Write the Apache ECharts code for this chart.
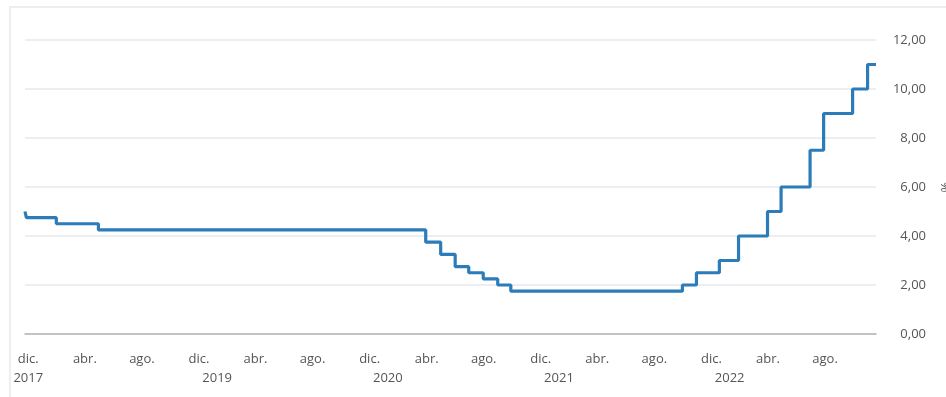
<!DOCTYPE html>
<html>
<head>
<meta charset="utf-8">
<script src="https://cdn.jsdelivr.net/npm/echarts@6/dist/echarts.min.js"></script>
<style>
  html, body { margin: 0; padding: 0; background: #ffffff; }
  #chart { width: 946px; height: 397px; }
</style>
</head>
<body>
<div id="chart"></div>
<script>
// Policy rate (%): each value holds from its date until the next change
const changeDates = [
  '2017-11-24', '2017-11-27', '2018-01-30', '2018-04-30',
  '2020-03-30', '2020-05-01', '2020-06-01', '2020-06-30', '2020-07-31',
  '2020-08-31', '2020-09-28',
  '2021-09-30', '2021-10-30', '2021-12-18', '2022-01-28', '2022-03-31',
  '2022-04-29', '2022-06-30', '2022-07-29', '2022-09-29', '2022-10-31',
  '2022-11-18'
];
const rateValues = [
  5.00, 4.75, 4.50, 4.25,
  3.75, 3.25, 2.75, 2.50, 2.25,
  2.00, 1.75,
  2.00, 2.50, 3.00, 4.00, 5.00,
  6.00, 7.50, 9.00, 10.00, 11.00,
  11.00
];

// Axis labels
const monthNames = ['ene.', 'feb.', 'mar.', 'abr.', 'may.', 'jun.',
                    'jul.', 'ago.', 'sep.', 'oct.', 'nov.', 'dic.'];
const monthTickDates = [
  '2017-12-01', '2018-04-01', '2018-08-01', '2018-12-01', '2019-04-01',
  '2019-08-01', '2019-12-01', '2020-04-01', '2020-08-01', '2020-12-01',
  '2021-04-01', '2021-08-01', '2021-12-01', '2022-04-01', '2022-08-01'
];
const yearTickDates = ['2017-12-01', '2019-01-09', '2020-01-09', '2021-01-09', '2022-01-09'];
const yearLabels = ['2017', '2019', '2020', '2021', '2022'];

const ts = d => new Date(d + 'T00:00:00Z').getTime();
const xMin = ts('2017-11-24');
const xMax = ts('2022-11-18');

const seriesData = changeDates.map((d, i) => [ts(d), rateValues[i]]);
const yearTs = yearTickDates.map(ts);

const labelFont = { fontFamily: 'Open Sans', fontSize: 13, color: '#555' };

const chart = echarts.init(document.getElementById('chart'), null, { renderer: 'canvas' });
chart.setOption({
  animation: false,
  backgroundColor: '#ffffff',
  graphic: [{
    type: 'rect',
    shape: { x: 10, y: 7, width: 980, height: 440 },
    style: { fill: 'none', stroke: '#eeeeee', lineWidth: 2 },
    silent: true,
    z: -10
  }],
  grid: { left: 25, right: 70, top: 40, bottom: 63, outerBoundsMode: 'none', containLabel: false },
  xAxis: [{
    type: 'value',
    min: xMin,
    max: xMax,
    scale: true,
    axisLine: { show: true, onZero: false, lineStyle: { color: '#b4b4b4', width: 1.5 } },
    axisTick: { show: false },
    splitLine: { show: false },
    axisLabel: Object.assign({
      customValues: monthTickDates.map(ts),
      margin: 19,
      hideOverlap: false,
      formatter: v => monthNames[new Date(v).getUTCMonth()]
    }, labelFont)
  }, {
    type: 'value',
    min: xMin,
    max: xMax,
    scale: true,
    position: 'bottom',
    axisLine: { show: false },
    axisTick: { show: false },
    splitLine: { show: false },
    axisLabel: Object.assign({
      customValues: yearTs,
      margin: 38,
      hideOverlap: false,
      formatter: v => yearLabels[yearTs.indexOf(v)] || ''
    }, labelFont)
  }],
  yAxis: {
    type: 'value',
    position: 'right',
    min: 0,
    max: 12,
    interval: 2,
    name: '%',
    nameLocation: 'middle',
    nameGap: 62,
    nameRotate: -90,
    nameTextStyle: labelFont,
    axisLine: { show: false },
    axisTick: { show: false },
    splitLine: { lineStyle: { color: '#e6e9ee', width: 1.5 } },
    axisLabel: Object.assign({
      align: 'right',
      margin: 50,
      formatter: v => v.toFixed(2).replace('.', ',')
    }, labelFont)
  },
  series: [{
    type: 'line',
    xAxisIndex: 0,
    step: 'end',
    data: seriesData,
    showSymbol: false,
    lineStyle: { color: '#2b7cb9', width: 3.2 },
    itemStyle: { color: '#2b7cb9' }
  }]
});
</script>
</body>
</html>
